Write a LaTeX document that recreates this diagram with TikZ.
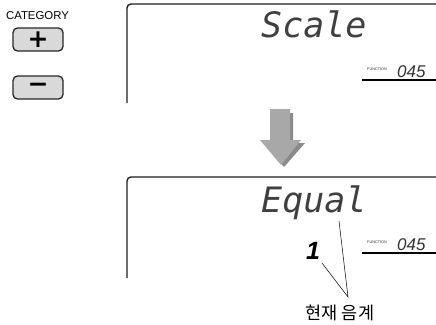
\documentclass[tikz,border=0pt]{standalone}
\usepackage{fontspec}
\setmainfont{Liberation Sans}
\newfontfamily\lcdfont{DejaVu Sans Mono}
\newfontfamily\segfont{Liberation Sans}
\newfontfamily\symfont{DejaVu Sans}
\newfontfamily\krfont{Noto Sans CJK KR}
\definecolor{lcdgray}{HTML}{404040}
\definecolor{btnfill}{HTML}{D9D9D9}
\definecolor{arrowlight}{HTML}{A8A8A8}
\definecolor{arrowdark}{HTML}{8A8A8A}
\begin{document}
\begin{tikzpicture}[x=1pt,y=-1pt,
  frame/.style={line width=1.4pt,draw=black!88,rounded corners=4pt},
  uline/.style={line width=1.1pt,draw=black},
  lcdtext/.style={inner sep=0pt,anchor=base west,text=lcdgray,font=\lcdfont\itshape\fontsize{35}{35}\selectfont},
  segtext/.style={inner sep=0pt,anchor=base west,text=black!80,font=\segfont\itshape\fontsize{17}{17}\selectfont},
  fntext/.style={inner sep=0pt,anchor=west,text=black!80,font=\segfont\fontsize{3.8}{4}\selectfont},
  btn/.style={draw=black!85,line width=1.3pt,fill=btnfill,rounded corners=4.5pt,minimum width=50pt,minimum height=23pt,inner sep=0pt},
  btnsym/.style={inner sep=0pt,font=\symfont\bfseries\fontsize{25}{25}\selectfont},
  leader/.style={line width=0.5pt,draw=black}
]
\useasboundingbox (0,0) rectangle (436,324);

% category buttons
\node[inner sep=0pt,font=\fontsize{11.4}{12}\selectfont] (cat) at (37.5,16) {CATEGORY};
\node[btn] (plusbtn) at (38,39.5) {};
\node[btnsym] (plussym) at (plusbtn.center) {+};
\node[btn] (minusbtn) at (38,87.5) {};
\node[btnsym] (minussym) at (minusbtn.center) {−};

% top display
\draw[frame] (436,4) -- (127,4) -- (127,103);
\node[lcdtext] (scale) at (261,37) {Scale};
\node[fntext] (fn1) at (367,69.5) {FUNCTION};
\node[segtext] (num1) at (397,77) {045};
\draw[uline] (362,80) -- (436,80);

% arrow (shadow + main)
\fill[arrowdark] (274,113) -- (293,113) -- (293,143) -- (305,143) -- (284,167) -- (264,143) -- (274,143) -- cycle;
\fill[arrowlight] (270,109) -- (290,109) -- (290,140) -- (301,140) -- (281,165) -- (260,140) -- (270,140) -- cycle;

% bottom display
\draw[frame] (436,177) -- (127,177) -- (127,278);
\node[lcdtext] (equal) at (261,212) {Equal};
\node[inner sep=0pt,anchor=base west,text=black,font=\segfont\itshape\bfseries\fontsize{25}{25}\selectfont] (one) at (306,259) {1};
\node[fntext] (fn2) at (367,242.5) {FUNCTION};
\node[segtext] (num2) at (397,250) {045};
\draw[uline] (362,253) -- (436,253);

% leaders and label
\node[inner sep=0pt,font=\krfont\fontsize{17.5}{18}\selectfont] (lbl) at (340,313) {현재 음계};
\coordinate (meet) at (348,297);
\coordinate (fromone) at (322,263);
\coordinate (fromequal) at (339,221);
\draw[leader] (fromone) -- (meet) -- (fromequal);
\end{tikzpicture}
\end{document}
